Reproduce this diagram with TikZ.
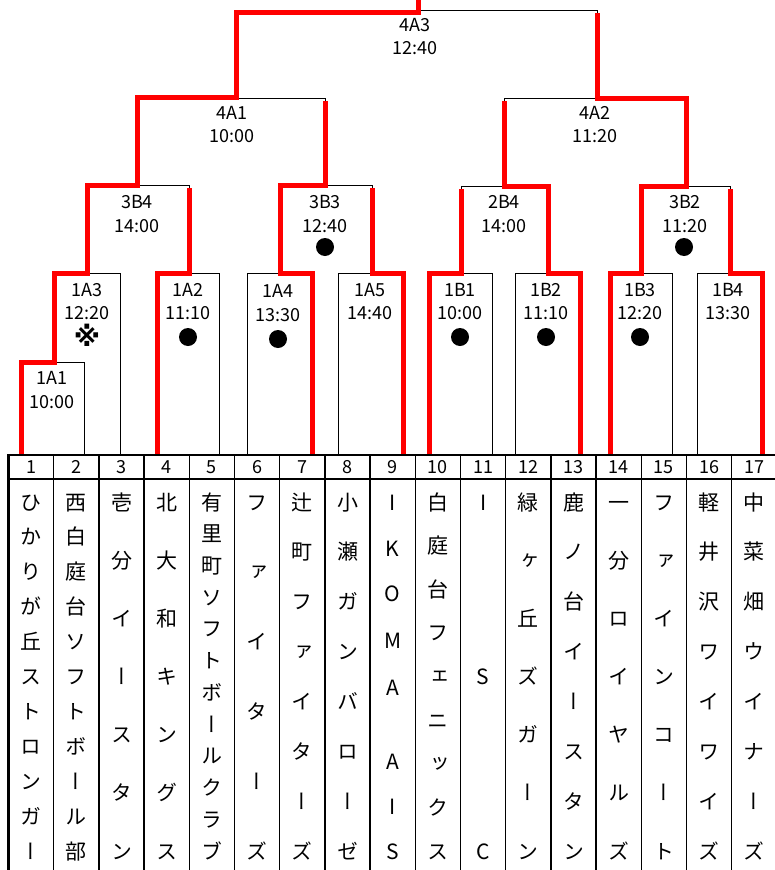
\documentclass[tikz,border=0pt]{standalone}
\usepackage{fontspec}
\newfontfamily\jp{Noto Sans CJK JP}
\newfontfamily\jpv[RawFeature=+vert]{Noto Sans CJK JP}
\newfontfamily\djv{DejaVu Sans}
\tikzset{
  blk/.style={line width=1pt, black},
  redp/.style={line width=5pt, red, line join=miter},
  lbl/.style={font=\jp\fontsize{18}{18}\selectfont, inner sep=0pt, anchor=center},
  numlbl/.style={font=\jp\fontsize{18}{18}\selectfont, inner sep=0pt, anchor=center},
  komestyle/.style={font=\djv\bfseries\fontsize{27}{27}\selectfont, inner sep=0pt, anchor=center},
  namech/.style={font=\jpv\fontsize{21}{21}\selectfont, inner sep=0pt, text height=18.5pt, text depth=2.5pt, anchor=center},
  dotmark/.style={circle, fill=black, inner sep=0pt, minimum size=18pt},
}
\newcommand\teamcol[3]{%
  \foreach \ch [count=\i from 0] in {#3} {
    \pgfmathsetmacro\yy{502+\i*349/(#2-1)}
    \node[namech] (t#1-\i) at ({8.5+(#1-0.5)*45.2}, \yy) {\ch};
  }%
}
\begin{document}
\begin{tikzpicture}[x=1pt,y=-1pt]
\useasboundingbox (0,0) rectangle (774,870);

% ---- black bracket boxes ----
\draw[blk] (21,455) |- (84,362) -- (84,455);
\draw[blk] (54,362) |- (120,273) -- (120,455);
\draw[blk] (157,455) |- (219,273) -- (219,455);
\draw[blk] (247,455) |- (312,273) -- (312,455);
\draw[blk] (338,455) |- (403,273) -- (403,455);
\draw[blk] (429,455) |- (492,273) -- (492,455);
\draw[blk] (515,455) |- (580,273) -- (580,455);
\draw[blk] (610,455) |- (672,273) -- (672,455);
\draw[blk] (697,455) |- (762,273) -- (762,455);
\draw[blk] (87,273) |- (189,185.5) -- (189,273);
\draw[blk] (280,273) |- (372,185.5) -- (372,273);
\draw[blk] (461,273) |- (548,186) -- (548,273);
\draw[blk] (641,273) |- (730,186) -- (730,273);
\draw[blk] (137,185) |- (325,98) -- (325,185);
\draw[blk] (504,186) |- (686,98) -- (686,186);
\draw[blk] (236,97) |- (597,10) -- (597,98);

% ---- red winning paths ----
\draw[redp] (21,455) -- (21,362) -- (54,362) -- (54,273) -- (87,273) -- (87,185.5) -- (137,185.5) -- (137,97.5) -- (236,97.5) -- (236,12) -- (418,12) -- (418,-5);
\draw[redp] (157,455) -- (157,273) -- (189,273) -- (189,188);
\draw[redp] (312,455) -- (312,273) -- (280,273) -- (280,185.5) -- (325,185.5) -- (325,100.5);
\draw[redp] (403,455) -- (403,273) -- (372,273) -- (372,188);
\draw[redp] (429,455) -- (429,273) -- (461,273) -- (461,188.5);
\draw[redp] (580,455) -- (580,273) -- (548,273) -- (548,186) -- (504,186) -- (504,100.5);
\draw[redp] (610,455) -- (610,273) -- (641,273) -- (641,186) -- (686,186) -- (686,98) -- (597,98) -- (597,12.5);
\draw[redp] (762,455) -- (762,273) -- (730,273) -- (730,188.5);

% ---- match labels ----
\node[lbl] (m4A3) at (415,25) {4A3};   \node[lbl] (m4A3t) at (415,48) {12:40};
\node[lbl] (m4A1) at (232,113) {4A1};  \node[lbl] (m4A1t) at (232,136) {10:00};
\node[lbl] (m4A2) at (595,113) {4A2};  \node[lbl] (m4A2t) at (595,136) {11:20};
\node[lbl] (m3B4) at (137,202) {3B4};  \node[lbl] (m3B4t) at (137,226) {14:00};
\node[lbl] (m3B3) at (325,202) {3B3};  \node[lbl] (m3B3t) at (325,226) {12:40};
\node[lbl] (m2B4) at (504,202) {2B4};  \node[lbl] (m2B4t) at (504,226) {14:00};
\node[lbl] (m3B2) at (685,202) {3B2};  \node[lbl] (m3B2t) at (685,226) {11:20};
\node[lbl] (m1A3) at (87,290) {1A3};   \node[lbl] (m1A3t) at (87,313) {12:20};
\node[lbl] (m1A1) at (52,378) {1A1};   \node[lbl] (m1A1t) at (52,402) {10:00};
\node[lbl] (m1A2) at (188,290) {1A2};  \node[lbl] (m1A2t) at (188,313) {11:10};
\node[lbl] (m1A4) at (278,291) {1A4};  \node[lbl] (m1A4t) at (278,315) {13:30};
\node[lbl] (m1A5) at (370,290) {1A5};  \node[lbl] (m1A5t) at (370,313) {14:40};
\node[lbl] (m1B1) at (460,290) {1B1};  \node[lbl] (m1B1t) at (460,313) {10:00};
\node[lbl] (m1B2) at (546,290) {1B2};  \node[lbl] (m1B2t) at (546,313) {11:10};
\node[lbl] (m1B3) at (640,290) {1B3};  \node[lbl] (m1B3t) at (640,313) {12:20};
\node[lbl] (m1B4) at (728,290) {1B4};  \node[lbl] (m1B4t) at (728,313) {13:30};
\node[komestyle] (kome) at (87,335) {※};

% ---- dots ----
\node[dotmark] (d1) at (325,247) {};
\node[dotmark] (d2) at (684,247) {};
\node[dotmark] (d3) at (188,337) {};
\node[dotmark] (d4) at (278,339) {};
\node[dotmark] (d5) at (460,337) {};
\node[dotmark] (d6) at (546,337) {};
\node[dotmark] (d7) at (640,337) {};

% ---- table ----
\foreach \k in {1,...,16} {
  \draw[line width=1.5pt] ({8.5+\k*45.2},455) -- ({8.5+\k*45.2},875);
}
\draw[line width=2.5pt] (8.5,454) -- (8.5,875);
\draw[line width=2.5pt] (7,455) -- (780,455);
\draw[line width=2pt] (7,479) -- (780,479);
\foreach \k in {1,...,17} {
  \node[numlbl] (num\k) at ({8.5+(\k-0.5)*45.2},467) {\k};
}

% ---- team names ----
\teamcol{1}{11}{ひ,か,り,が,丘,ス,ト,ロ,ン,ガ,ー}
\teamcol{2}{11}{西,白,庭,台,ソ,フ,ト,ボ,ー,ル,部}
\teamcol{3}{7}{壱,分,イ,ー,ス,タ,ン}
\teamcol{4}{7}{北,大,和,キ,ン,グ,ス}
\teamcol{5}{12}{有,里,町,ソ,フ,ト,ボ,ー,ル,ク,ラ,ブ}
\teamcol{6}{6}{フ,ァ,イ,タ,ー,ズ}
\teamcol{7}{8}{辻,町,フ,ァ,イ,タ,ー,ズ}
\teamcol{8}{8}{小,瀬,ガ,ン,バ,ロ,ー,ゼ}
\foreach \f/\ch [count=\i] in {0/I,1.02/K,2/O,3.02/M,4.04/A,5.64/A,6.62/I,7.6/S} {
  \node[namech] (t9-\i) at ({8.5+8.5*45.2},{502+\f*349/7.6}) {\ch};
}
\teamcol{10}{9}{白,庭,台,フ,ェ,ニ,ッ,ク,ス}
\teamcol{11}{3}{I,S,C}
\teamcol{12}{7}{緑,ヶ,丘,ズ,ガ,ー,ン}
\teamcol{13}{8}{鹿,ノ,台,イ,ー,ス,タ,ン}
\teamcol{14}{7}{一,分,ロ,イ,ヤ,ル,ズ}
\teamcol{15}{7}{フ,ァ,イ,ン,コ,ー,ト}
\teamcol{16}{8}{軽,井,沢,ワ,イ,ワ,イ,ズ}
\teamcol{17}{8}{中,菜,畑,ウ,イ,ナ,ー,ズ}
\end{tikzpicture}
\end{document}
